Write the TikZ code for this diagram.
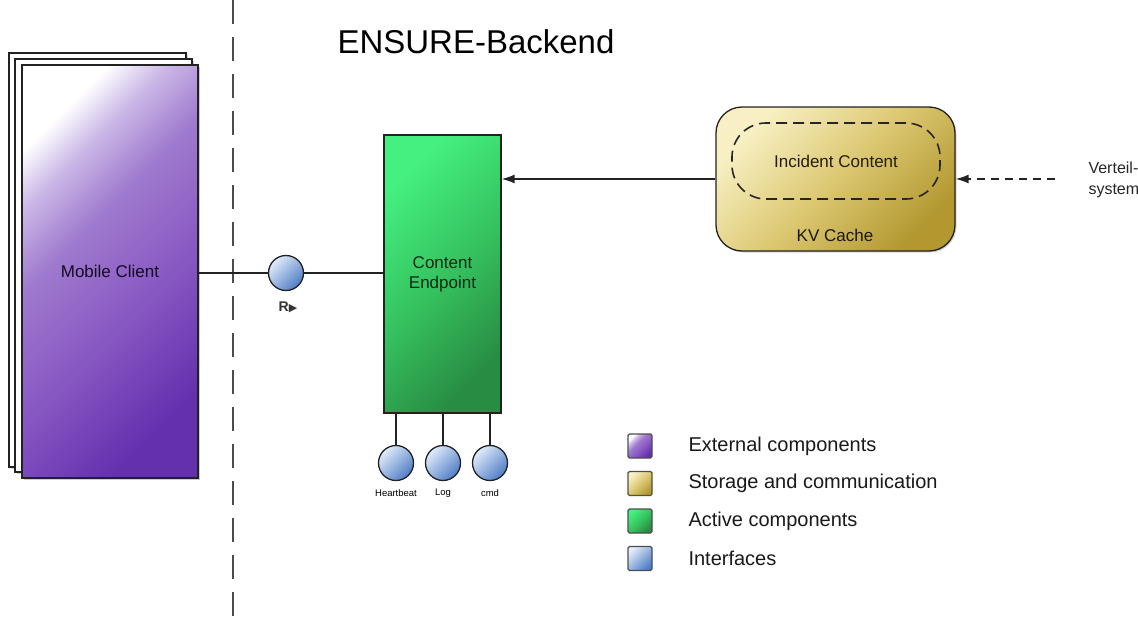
\documentclass[tikz,border=0pt]{standalone}
\usepackage{fontspec}
\setmainfont{Liberation Sans}
\newfontfamily\dejavu{DejaVu Sans}
\usetikzlibrary{arrows.meta,shadows}
\definecolor{mcdark}{HTML}{6530AE}
\definecolor{mcmid}{HTML}{9F7ACE}
\definecolor{mcmid2}{HTML}{8757C2}
\definecolor{mclight}{HTML}{CBB8E7}
\definecolor{cegreen}{HTML}{44F080}
\definecolor{cemid}{HTML}{36C460}
\definecolor{cedark}{HTML}{288C42}
\definecolor{kvlight}{HTML}{F8F0C4}
\definecolor{kvmid}{HTML}{DCC872}
\definecolor{kvdark}{HTML}{B39830}
\definecolor{iflight}{HTML}{E2ECFA}
\definecolor{ifdark}{HTML}{4F7DC6}
\definecolor{linec}{HTML}{222222}
\pgfdeclareverticalshading{mcshade}{100bp}{color(0bp)=(mcdark); color(25bp)=(mcdark); color(42bp)=(mcmid2); color(58bp)=(mcmid); color(68bp)=(mclight); color(75bp)=(white); color(100bp)=(white)}
\pgfdeclareverticalshading{ceshade}{100bp}{color(0bp)=(cedark); color(25bp)=(cedark); color(50bp)=(cemid); color(75bp)=(cegreen); color(100bp)=(cegreen)}
\pgfdeclareverticalshading{kvshade}{100bp}{color(0bp)=(kvdark); color(25bp)=(kvdark); color(50bp)=(kvmid); color(75bp)=(kvlight); color(100bp)=(kvlight)}
\tikzset{
  shp/.style={draw=linec, line width=1.3pt, inner sep=0pt},
  pagebox/.style={shp, fill=white, drop shadow={shadow xshift=1.5pt, shadow yshift=-1.5pt, opacity=0.35}},
  mobile/.style={shp, shading=mcshade, shading angle=45,
    drop shadow={shadow xshift=2pt, shadow yshift=-2pt, opacity=0.4}},
  active/.style={shp, shading=ceshade, shading angle=45},
  storage/.style={shp, shading=kvshade, shading angle=45, rounded corners=26pt,
    drop shadow={shadow xshift=1.5pt, shadow yshift=-1.5pt, opacity=0.35}},
  iface/.style={shp, circle, minimum size=35pt, top color=iflight, bottom color=ifdark, shading angle=45},
  legsq/.style={draw=linec!80, line width=1.3pt, minimum size=24pt, inner sep=0pt, rounded corners=1.5pt},
  conn/.style={draw=linec, line width=1.6pt},
  arrtip/.style={-{Latex[length=13pt,width=9pt]}},
  boxtext/.style={font=\fontsize{17}{20}\selectfont, align=center},
  legtext/.style={anchor=west, font=\fontsize{20}{24}\selectfont, text=black!90},
}
\begin{document}
\begin{tikzpicture}[x=1pt,y=-1pt]
\useasboundingbox (0,0) rectangle (1138,624);
% separator
\coordinate (septop) at (233,0);
\coordinate (sepbot) at (233,624);
\draw[gray!60!black, line width=1.6pt, dash pattern=on 24pt off 13pt] (septop) -- (sepbot);
% title
\node[font=\fontsize{33}{38}\selectfont] (title) at (476,42) {ENSURE-Backend};
% mobile client stack
\node[pagebox, minimum width=177pt, minimum height=414pt] (pg1) at (97.5,260) {};
\node[pagebox, minimum width=177pt, minimum height=413pt] (pg2) at (103.5,265.5) {};
\node[mobile, minimum width=176pt, minimum height=413pt, boxtext, text=black!80!mcdark] (mc) at (110,271.5) {Mobile Client};
% content endpoint
\node[active, minimum width=117pt, minimum height=278pt, boxtext, text=black!70!cedark] (ce) at (442.5,274) {Content\\Endpoint};
% KV cache
\node[storage, minimum width=239pt, minimum height=144pt] (kv) at (835.5,179) {};
\node[draw=black!85, line width=1.6pt, dash pattern=on 11pt off 6pt, rounded corners=34pt,
      minimum width=208pt, minimum height=76pt, boxtext, text=black!80!kvdark] (ic) at (836,161) {Incident Content};
\node[boxtext, text=black!85!kvdark] (kvl) at (835,235) {KV Cache};
% verteilsystem
\coordinate (vs) at (1055,179);
\node[anchor=west, align=left, font=\fontsize{16}{21}\selectfont, text=black!85] (vt) at (1085,179.5) {Verteil-\\system};
\draw[conn, dash pattern=on 8pt off 6pt, arrtip] (vs) -- (kv.east);
% arrow KV -> CE
\draw[conn, arrtip] (kv.west) -- (ce.east |- kv.west);
% R interface
\node[iface] (r) at (286,273) {};
\node[font=\fontsize{14}{16}\selectfont\bfseries, text=black!80] (rl) at (288,307) {R{\dejavu\fontsize{11}{12}\selectfont ▶}};
\draw[conn] (mc.east |- r) -- (r.west);
\draw[conn] (r.east) -- (ce.west |- r);
% bottom interfaces
\node[iface] (hb) at (396,463) {};
\node[iface] (lg) at (443,463) {};
\node[iface] (cm) at (490,463) {};
\draw[conn] (hb.north) -- (hb.north |- ce.south);
\draw[conn] (lg.north) -- (lg.north |- ce.south);
\draw[conn] (cm.north) -- (cm.north |- ce.south);
\node[font=\fontsize{9.5}{11}\selectfont] (hbl) at (396,493) {Heartbeat};
\node[font=\fontsize{9.5}{11}\selectfont] (lgl) at (443,493) {Log};
\node[font=\fontsize{9.5}{11}\selectfont] (cml) at (490,493) {cmd};
% legend
\node[legsq, shading=mcshade, shading angle=45] (l1) at (640,446) {};
\node[legsq, shading=kvshade, shading angle=45] (l2) at (640,483.5) {};
\node[legsq, shading=ceshade, shading angle=45] (l3) at (640,521) {};
\node[legsq, top color=iflight, bottom color=ifdark, shading angle=45] (l4) at (640,558.5) {};
\node[legtext] (t1) at (685,446) {External components};
\node[legtext] (t2) at (685,483.5) {Storage and communication};
\node[legtext] (t3) at (685,521) {Active components};
\node[legtext] (t4) at (685,558.5) {Interfaces};
\end{tikzpicture}
\end{document}
